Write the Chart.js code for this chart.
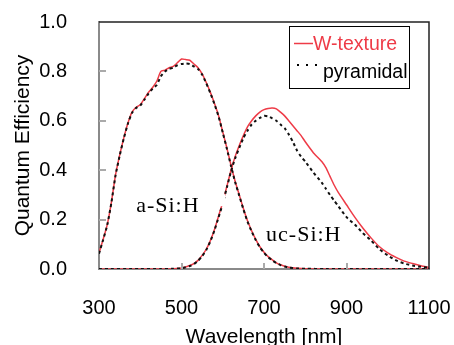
<!DOCTYPE html>
<html>
<head>
<meta charset="utf-8">
<script src="https://cdn.jsdelivr.net/npm/chart.js@4.4.1/dist/chart.umd.min.js"></script>
<style>
  html, body { margin: 0; padding: 0; background: #fff; }
  #wrap { width: 454px; height: 345px; }
</style>
</head>
<body>
<div id="wrap"><canvas id="qeChart"></canvas></div>
<script>
// wavelengths (nm) and quantum efficiency
const aSiWl = [300, 310, 320, 330, 340, 350, 360, 370, 380, 390, 400, 410, 420, 430, 440, 450, 460, 470, 480, 490, 500, 510, 520, 530, 540, 550, 560, 570, 580, 590, 600, 610, 620, 630, 640, 650, 660, 670, 680, 690, 700, 710, 720, 730, 740, 750, 760, 780, 800, 850, 900, 1000, 1100];
const aSiWTexture = [0.065, 0.12, 0.18, 0.27, 0.38, 0.46, 0.53, 0.59, 0.635, 0.655, 0.665, 0.69, 0.715, 0.735, 0.76, 0.80, 0.805, 0.815, 0.82, 0.835, 0.85, 0.848, 0.845, 0.83, 0.815, 0.79, 0.755, 0.715, 0.67, 0.62, 0.555, 0.49, 0.42, 0.355, 0.30, 0.245, 0.195, 0.155, 0.12, 0.09, 0.068, 0.05, 0.037, 0.025, 0.017, 0.011, 0.007, 0.003, 0.001, 0, 0, 0, 0];
const aSiPyramidal = [0.062, 0.118, 0.178, 0.268, 0.378, 0.458, 0.528, 0.588, 0.632, 0.652, 0.662, 0.685, 0.71, 0.73, 0.745, 0.78, 0.80, 0.81, 0.815, 0.825, 0.83, 0.832, 0.83, 0.82, 0.81, 0.787, 0.752, 0.712, 0.667, 0.617, 0.552, 0.487, 0.417, 0.352, 0.297, 0.242, 0.192, 0.152, 0.117, 0.088, 0.066, 0.048, 0.035, 0.024, 0.016, 0.01, 0.006, 0.002, 0.001, 0, 0, 0, 0];

const ucSiWl = [300, 400, 450, 480, 500, 510, 520, 530, 540, 550, 560, 570, 580, 590, 600, 610, 620, 630, 640, 650, 660, 670, 680, 690, 700, 710, 720, 730, 740, 750, 760, 770, 780, 790, 800, 820, 840, 850, 860, 870, 880, 900, 920, 940, 960, 980, 1000, 1020, 1040, 1060, 1080, 1100];
const ucSiWTexture = [0, 0, 0, 0.001, 0.004, 0.008, 0.014, 0.022, 0.035, 0.055, 0.08, 0.115, 0.16, 0.215, 0.27, 0.335, 0.40, 0.455, 0.50, 0.54, 0.575, 0.60, 0.62, 0.635, 0.645, 0.65, 0.652, 0.648, 0.635, 0.62, 0.60, 0.58, 0.56, 0.54, 0.515, 0.47, 0.435, 0.41, 0.375, 0.34, 0.31, 0.26, 0.21, 0.165, 0.125, 0.09, 0.065, 0.047, 0.032, 0.022, 0.013, 0.006];
const ucSiPyramidal = [0, 0, 0, 0.001, 0.003, 0.007, 0.012, 0.02, 0.033, 0.052, 0.077, 0.112, 0.157, 0.21, 0.265, 0.33, 0.395, 0.448, 0.49, 0.53, 0.56, 0.585, 0.60, 0.612, 0.62, 0.618, 0.61, 0.60, 0.585, 0.57, 0.545, 0.515, 0.48, 0.455, 0.435, 0.39, 0.35, 0.325, 0.30, 0.277, 0.255, 0.21, 0.18, 0.145, 0.115, 0.08, 0.055, 0.035, 0.022, 0.014, 0.009, 0.005];

const seriesNames = ['W-texture', 'pyramidal'];
const annotationTexts = ['a-Si:H', 'uc-Si:H'];

const RED = '#ee3b47';
const sans = 'Liberation Sans, Arial, sans-serif';

function toPoints(xs, ys) {
    return xs.map((x, i) => ({ x: x, y: ys[i] }));
}

function lineSet(label, xs, ys, dotted) {
    return {
        label: label,
        data: toPoints(xs, ys),
        borderColor: dotted ? '#111' : RED,
        borderWidth: dotted ? 2 : 1.5,
        borderDash: dotted ? [3, 3] : [],
        pointRadius: 0,
        fill: false,
        tension: 0.2
    };
}

// no automatic label padding, so the plot box sits where the picture has it
function noPad(scale) {
    scale.paddingLeft = 0;
    scale.paddingRight = 0;
    scale.paddingTop = 0;
    scale.paddingBottom = 0;
}

// frame, inward ticks, boxed legend and the two curve labels
const decorations = {
    id: 'decorations',
    afterDatasetsDraw(chart) {
        const c = chart.ctx;
        const a = chart.chartArea;
        const xs = chart.scales.x, ys = chart.scales.y;
        c.save();

        // top and right frame
        c.strokeStyle = '#222';
        c.lineWidth = 1.5;
        c.beginPath();
        c.moveTo(a.left, a.top);
        c.lineTo(a.right, a.top);
        c.lineTo(a.right, a.bottom);
        c.stroke();

        // inward tick marks
        c.strokeStyle = '#aaa';
        c.lineWidth = 2;
        xs.ticks.forEach(t => {
            if (t.value <= xs.min || t.value >= xs.max) return;
            const px = Math.round(xs.getPixelForValue(t.value));
            c.beginPath();
            c.moveTo(px, a.bottom);
            c.lineTo(px, a.bottom - 6);
            c.stroke();
        });
        ys.ticks.forEach(t => {
            if (t.value <= ys.min || t.value >= ys.max) return;
            const py = Math.round(ys.getPixelForValue(t.value));
            c.beginPath();
            c.moveTo(a.left, py);
            c.lineTo(a.left + 7, py);
            c.stroke();
        });

        // legend box
        c.fillStyle = '#fff';
        c.fillRect(289.5, 26.5, 120, 62);
        c.strokeStyle = '#000';
        c.lineWidth = 1;
        c.strokeRect(289.5, 26.5, 120, 62);

        c.strokeStyle = RED;
        c.lineWidth = 1.5;
        c.beginPath();
        c.moveTo(294, 43.5);
        c.lineTo(313, 43.5);
        c.stroke();

        c.strokeStyle = '#000';
        c.lineWidth = 2;
        c.setLineDash([2, 7]);
        c.beginPath();
        c.moveTo(297, 65);
        c.lineTo(318, 65);
        c.stroke();
        c.setLineDash([]);

        c.font = '19.5px ' + sans;
        c.textBaseline = 'alphabetic';
        c.textAlign = 'left';
        c.fillStyle = RED;
        c.fillText(seriesNames[0], 313, 50);
        c.fillStyle = '#000';
        c.fillText(seriesNames[1], 323, 78);

        // curve labels, anchored in data units
        const ax = xs.getPixelForValue(390), ay = ys.getPixelForValue(0.23);
        c.fillStyle = '#fff';
        c.fillRect(ax - 4, ay - 18, 93, 12);
        c.font = '22px Liberation Serif, Times New Roman, serif';
        c.letterSpacing = '1px';
        c.fillStyle = '#000';
        c.fillText(annotationTexts[0], ax, ay);
        const ux = xs.getPixelForValue(705), uy = ys.getPixelForValue(0.113);
        c.fillText(annotationTexts[1], ux, uy);

        c.restore();
    }
};

const ctx = document.getElementById('qeChart').getContext('2d');
const chart = new Chart(ctx, {
    type: 'line',
    data: {
        datasets: [
            lineSet(seriesNames[1], aSiWl, aSiPyramidal, true),
            lineSet(seriesNames[1], ucSiWl, ucSiPyramidal, true),
            lineSet(seriesNames[0], aSiWl, aSiWTexture, false),
            lineSet(seriesNames[0], ucSiWl, ucSiWTexture, false)
        ]
    },
    options: {
        responsive: true,
        maintainAspectRatio: false,
        animation: false,
        layout: { padding: { left: 0, right: 25, top: 22, bottom: 0 } },
        plugins: {
            legend: { display: false },
            tooltip: { enabled: false }
        },
        scales: {
            x: {
                type: 'linear',
                min: 300,
                max: 1100,
                ticks: {
                    stepSize: 200,
                    color: '#000',
                    font: { family: sans, size: 20 },
                    padding: 19,
                    maxRotation: 0,
                    callback: v => String(v)
                },
                grid: { display: false },
                border: { display: true, color: '#8a8a8a', width: 2 },
                title: {
                    display: true,
                    text: 'Wavelength [nm]',
                    color: '#000',
                    font: { family: sans, size: 21 },
                    padding: { top: 0, bottom: -5 }
                },
                afterFit(scale) { scale.height = 76; noPad(scale); }
            },
            y: {
                min: 0,
                max: 1,
                ticks: {
                    stepSize: 0.2,
                    color: '#000',
                    font: { family: sans, size: 20 },
                    padding: 24,
                    callback: v => v.toFixed(1)
                },
                grid: { display: false },
                border: { display: true, color: '#8a8a8a', width: 2 },
                title: {
                    display: true,
                    text: 'Quantum Efficiency',
                    color: '#000',
                    font: { family: sans, size: 21 },
                    padding: { top: 11, bottom: 0 }
                },
                afterFit(scale) { scale.width = 99; noPad(scale); }
            }
        }
    },
    plugins: [decorations]
});
</script>
</body>
</html>
